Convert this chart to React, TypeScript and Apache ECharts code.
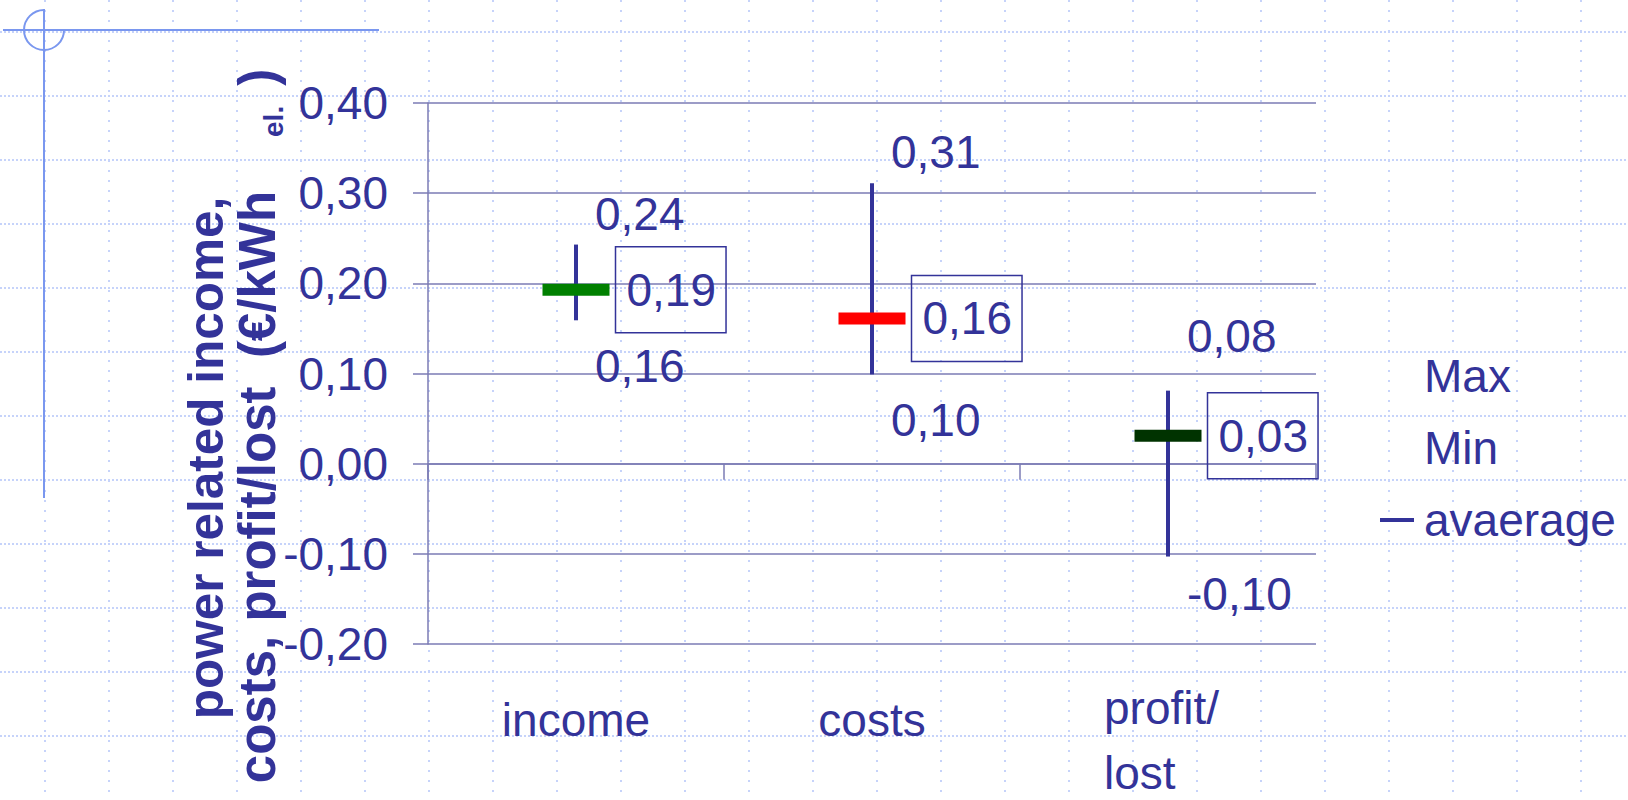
import React, { useEffect, useRef } from "react";
import * as echarts from "echarts";

// ---- data ----
const categories = ["income", "costs", "profit/\nlost"];
const maxValues = [0.243, 0.311, 0.081];
const minValues = [0.159, 0.099, -0.103];
const avgValues = [0.193, 0.161, 0.031];
const legendNames = ["Max", "Min", "avaerage"];
const yMin = -0.2;
const yMax = 0.4;
const yInterval = 0.1;

// ---- styling ----
const avgColors = ["#008000", "#ff0000", "#003300"];
const maxLabelDy = [-31, -31, -55];
const minLabelDy = [46, 46, 37];
const NAVY = "#333399";
const GRID = "#7b7bb5";
const DECOR = "#7a97ef";
const DOTS = "#c6d3fa";
const FONT = '"Liberation Sans", Arial, sans-serif';

const fmt = (v: number) => {
  const r = Math.abs(v) < 1e-9 ? 0 : v;
  return r.toFixed(2).replace(".", ",");
};

function buildGraphics() {
  const g: any[] = [];
  for (let x = 45; x < 1628; x += 64) {
    g.push({
      type: "line",
      silent: true,
      z: -100,
      shape: { x1: x, y1: 0, x2: x, y2: 800 },
      style: { stroke: DOTS, lineWidth: 2, lineDash: [2, 8] },
    });
  }
  for (let y = 32; y < 800; y += 64) {
    g.push({
      type: "line",
      silent: true,
      z: -100,
      shape: { x1: 0, y1: y, x2: 1628, y2: y },
      style: { stroke: DOTS, lineWidth: 2, lineDash: [2, 2] },
    });
  }
  g.push({
    type: "line",
    silent: true,
    z: -50,
    shape: { x1: 3, y1: 30, x2: 379, y2: 30 },
    style: { stroke: DECOR, lineWidth: 2 },
  });
  g.push({
    type: "line",
    silent: true,
    z: -50,
    shape: { x1: 44, y1: 9, x2: 44, y2: 498 },
    style: { stroke: DECOR, lineWidth: 2 },
  });
  g.push({
    type: "arc",
    silent: true,
    z: -50,
    shape: { cx: 44, cy: 30, r: 20, startAngle: 0, endAngle: Math.PI * 1.5, clockwise: true },
    style: { stroke: DECOR, lineWidth: 2, fill: "none" },
  });
  g.push({
    type: "text",
    silent: true,
    x: 205,
    y: 458,
    rotation: Math.PI / 2,
    style: {
      text: "power related income,",
      fontSize: 49.5,
      fontWeight: "bold",
      fontFamily: FONT,
      fill: NAVY,
      align: "center",
      verticalAlign: "middle",
    },
  });
  g.push({
    type: "text",
    silent: true,
    x: 257,
    y: 426,
    rotation: Math.PI / 2,
    style: {
      text: "{a|costs, profit/lost  (€/kWh}{b|el.}{a|)}",
      fontSize: 51,
      fontWeight: "bold",
      fontFamily: FONT,
      fill: NAVY,
      align: "center",
      verticalAlign: "middle",
      rich: {
        a: { fontSize: 51, fontWeight: "bold", fontFamily: FONT, fill: NAVY, lineHeight: 60 },
        b: {
          fontSize: 28,
          fontWeight: "bold",
          fontFamily: FONT,
          fill: NAVY,
          lineHeight: 60,
          verticalAlign: "bottom",
          padding: [0, 20, 0, 54],
        },
      },
    },
  });
  return g;
}

export default function App() {
  const ref = useRef<HTMLDivElement>(null);
  useEffect(() => {
    if (!ref.current) return;
    const chart = echarts.init(ref.current, null, { renderer: "svg" });
    const labelText = { fontSize: 46, color: NAVY, fontFamily: FONT };
    const option: any = {
      animation: false,
      backgroundColor: "#ffffff",
      grid: {
        left: 428,
        right: 312,
        top: 103,
        bottom: 156,
        containLabel: false,
        outerBoundsMode: "none",
      },
      legend: {
        orient: "vertical",
        left: 1375,
        top: 346,
        itemWidth: 34,
        itemHeight: 4,
        itemGap: 22,
        selectedMode: false,
        data: [
          { name: legendNames[0], icon: "none" },
          { name: legendNames[1], icon: "none" },
          { name: legendNames[2], icon: "rect", itemStyle: { color: NAVY, opacity: 1 } },
        ],
        textStyle: { ...labelText, lineHeight: 50, padding: [0, 0, 0, 5] },
      },
      xAxis: [
        {
          type: "category",
          data: categories,
          position: "bottom",
          axisLine: { show: false, onZero: false },
          axisTick: { show: false },
          splitLine: { show: false },
          axisLabel: {
            margin: 24,
            ...labelText,
            formatter: (v: string) => {
              const parts = v.split("\n");
              if (parts.length > 1) return `{a|${parts[0]}}\n{b|${parts[1]}}`;
              return `{c|${v}}`;
            },
            rich: {
              a: { ...labelText, lineHeight: 80, width: 128, align: "left" },
              b: { ...labelText, lineHeight: 50, width: 128, align: "left" },
              c: { ...labelText, lineHeight: 103 },
            },
          },
        },
        {
          type: "category",
          data: categories,
          position: "top",
          axisLine: { show: true, onZero: true, lineStyle: { color: GRID, width: 1.5 } },
          axisTick: { show: true, inside: true, length: 16, lineStyle: { color: GRID, width: 1.5 } },
          axisLabel: { show: false },
          splitLine: { show: false },
        },
      ],
      yAxis: {
        type: "value",
        min: yMin,
        max: yMax,
        interval: yInterval,
        axisLine: { show: true, lineStyle: { color: GRID, width: 1.5 } },
        axisTick: { show: true, length: 15, lineStyle: { color: GRID, width: 1.5 } },
        splitLine: { show: true, lineStyle: { color: GRID, width: 1.5 } },
        axisLabel: { margin: 40, ...labelText, formatter: (v: number) => fmt(v) },
      },
      series: [
        {
          type: "custom",
          name: "range",
          xAxisIndex: 0,
          yAxisIndex: 0,
          silent: true,
          z: 3,
          data: categories.map((_, i) => [i, minValues[i], maxValues[i]]),
          encode: { x: 0, y: [1, 2] },
          renderItem: (_params: any, api: any) => {
            const p1 = api.coord([api.value(0), api.value(1)]);
            const p2 = api.coord([api.value(0), api.value(2)]);
            return {
              type: "line",
              shape: { x1: p1[0], y1: p1[1], x2: p2[0], y2: p2[1] },
              style: { stroke: NAVY, lineWidth: 4 },
            };
          },
        },
        {
          type: "scatter",
          name: legendNames[2],
          xAxisIndex: 0,
          silent: true,
          z: 4,
          symbol: "rect",
          symbolSize: [67, 12],
          itemStyle: { opacity: 1 },
          data: avgValues.map((v, i) => ({
            value: [i, v],
            itemStyle: { color: avgColors[i], opacity: 1 },
          })),
          label: {
            show: true,
            position: "right",
            distance: 6,
            formatter: (p: any) => fmt(p.value[1]),
            ...labelText,
            opacity: 1,
            lineHeight: 48,
            borderColor: NAVY,
            borderWidth: 1.5,
            padding: [19, 10, 19, 11],
          },
        },
        {
          type: "scatter",
          name: legendNames[0],
          xAxisIndex: 0,
          silent: true,
          z: 4,
          symbolSize: 0,
          itemStyle: { color: NAVY, opacity: 1 },
          data: maxValues.map((v, i) => ({ value: [i, v], label: { offset: [0, maxLabelDy[i]] } })),
          label: {
            show: true,
            position: "right",
            distance: 19,
            opacity: 1,
            formatter: (p: any) => fmt(p.value[1]),
            ...labelText,
          },
        },
        {
          type: "scatter",
          name: legendNames[1],
          xAxisIndex: 0,
          silent: true,
          z: 4,
          symbolSize: 0,
          itemStyle: { color: NAVY, opacity: 1 },
          data: minValues.map((v, i) => ({ value: [i, v], label: { offset: [0, minLabelDy[i]] } })),
          label: {
            show: true,
            position: "right",
            distance: 19,
            opacity: 1,
            formatter: (p: any) => fmt(p.value[1]),
            ...labelText,
          },
        },
      ],
      graphic: buildGraphics(),
    };
    chart.setOption(option);
    return () => chart.dispose();
  }, []);
  return (
    <div
      ref={ref}
      style={{ position: "fixed", left: 0, top: 0, width: 1628, height: 800 }}
    />
  );
}
